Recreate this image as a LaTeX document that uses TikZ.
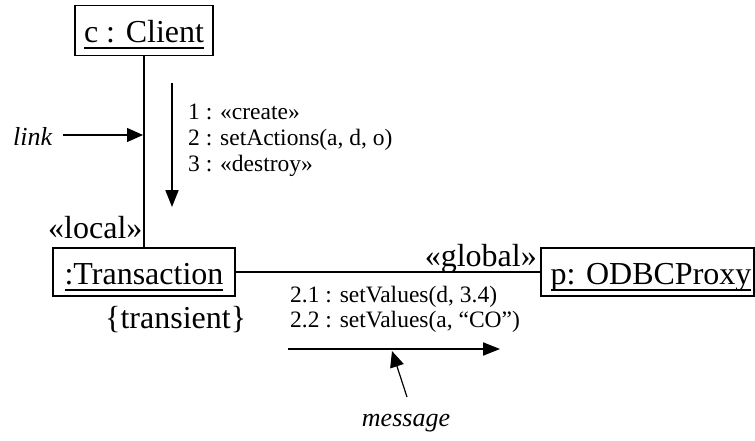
\documentclass[tikz,border=0pt]{standalone}
\usepackage{fontspec}
\setmainfont{Liberation Serif}
\usetikzlibrary{arrows.meta}
\newcommand\ulbox[1]{\setbox0\hbox{#1}\rlap{\rule[-6.5pt]{\wd0}{1.8pt}}\box0}
\tikzset{
 obj/.style={draw, line width=1.2pt, inner sep=0pt, minimum height=48pt, text height=26pt, text depth=2pt, font=\fontsize{32}{38}\selectfont},
 big/.style={inner sep=0pt, font=\fontsize{32}{38}\selectfont},
 msg/.style={inner sep=0pt, font=\fontsize{23.5}{28}\selectfont},
 note/.style={inner sep=0pt, font=\itshape\fontsize{26}{30}\selectfont},
 linkline/.style={line width=1.8pt},
 msgarrow/.style={line width=2pt, -{Triangle[length=17pt,width=13pt]}},
 pointer/.style={line width=1.2pt, -{Triangle[length=16pt,width=14pt]}},
}
\begin{document}
\begin{tikzpicture}[x=1pt,y=-1pt]
\useasboundingbox (0,0) rectangle (755,440);
% objects
\node[obj, minimum width=138pt, minimum height=50pt] (c) at (144,30.5) {\ulbox{c : Client}};
\node[obj, minimum width=182pt] (t) at (144,272) {\ulbox{:Transaction}};
\node[obj, minimum width=213pt] (p) at (647.5,272) {\hspace*{7pt}\ulbox{p: ODBCProxy}};
% links
\draw[linkline] (c.south) -- (t.north);
\draw[linkline] (t.east) -- (p.west);
% link labels
\node[big, anchor=base west] (local) at (48,238) {«local»};
\node[big, anchor=base west] (trans) at (105,328) {\{transient\}};
\node[big, anchor=base east] (glob) at (537,266) {«global»};
% messages to transaction
\node[msg, anchor=base west] (m1) at (188,119) {1 : «create»};
\node[msg, anchor=base west] (m2) at (188,145) {2 : setActions(a, d, o)};
\node[msg, anchor=base west] (m3) at (188,171) {3 : «destroy»};
\coordinate (d1) at (172,83);
\coordinate (d2) at (172,207);
\draw[msgarrow] (d1) -- (d2);
% messages to proxy
\node[msg, anchor=base west] (m21) at (290,302) {2.1 : setValues(d, 3.4)};
\node[msg, anchor=base west] (m22) at (290,327) {2.2 : setValues(a, “CO”)};
\coordinate (h1) at (288,349);
\coordinate (h2) at (500,349);
\draw[msgarrow] (h1) -- (h2);
% notes
\node[note, anchor=base west] (lk) at (13,145) {link};
\coordinate (la) at (63,135);
\coordinate (lb) at (143,135);
\draw[pointer] (la) -- (lb);
\node[note, anchor=base] (msgl) at (406,426) {message};
\coordinate (ma) at (407,397);
\coordinate (mb) at (392,351);
\draw[pointer] (ma) -- (mb);
\end{tikzpicture}
\end{document}
